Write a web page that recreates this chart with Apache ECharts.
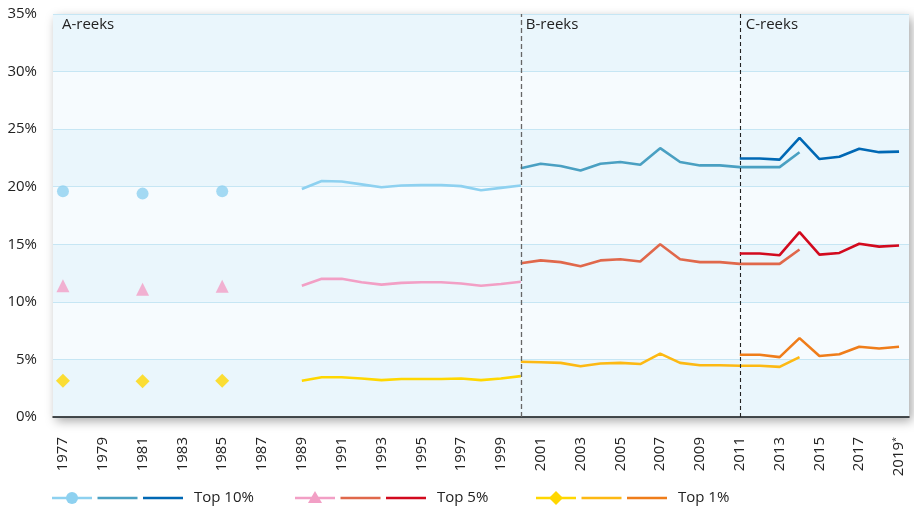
<!DOCTYPE html>
<html><head><meta charset="utf-8">
<script src="https://cdn.jsdelivr.net/npm/echarts@6/dist/echarts.min.js"></script>
<style>html,body{margin:0;padding:0;background:#fff}#c{width:914px;height:510px}</style>
</head><body><div id="c"></div>
<script>
var years = ['1977','1978','1979','1980','1981','1982','1983','1984','1985','1986','1987','1988','1989','1990','1991','1992','1993','1994','1995','1996','1997','1998','1999','2000','2001','2002','2003','2004','2005','2006','2007','2008','2009','2010','2011','2012','2013','2014','2015','2016','2017','2018','2019'];
var yTicks = [0,5,10,15,20,25,30,35];
var dotYears = ['1977','1981','1985'];
var a10Dots = [19.6,19.4,19.6];
var a5Dots = [11.4,11.1,11.35];
var a1Dots = [3.15,3.1,3.15];
var aStart = '1989';
var a10 = [19.8,20.5,20.45,20.2,19.95,20.1,20.15,20.15,20.05,19.7,19.9,20.1];
var a5 = [11.4,12.0,12.0,11.7,11.5,11.65,11.7,11.7,11.6,11.4,11.55,11.75];
var a1 = [3.15,3.45,3.45,3.35,3.2,3.3,3.3,3.3,3.35,3.2,3.35,3.55];
var bStart = '2000';
var b10 = [21.6,22.0,21.8,21.4,22.0,22.15,21.9,23.35,22.15,21.85,21.85,21.7,21.7,21.7,23.0];
var b5 = [13.35,13.6,13.45,13.1,13.6,13.7,13.5,15.0,13.7,13.45,13.45,13.3,13.3,13.3,14.55];
var b1 = [4.8,4.75,4.7,4.4,4.65,4.7,4.6,5.5,4.7,4.5,4.5,4.45,4.45,4.35,5.2];
var cStart = '2011';
var c10 = [22.45,22.45,22.35,24.25,22.4,22.6,23.3,23.0,23.05];
var c5 = [14.2,14.2,14.05,16.05,14.1,14.25,15.05,14.8,14.9];
var c1 = [5.4,5.4,5.2,6.85,5.3,5.45,6.1,5.95,6.1];
var seriesLabels = ['Top 10%','Top 5%','Top 1%'];
var regionLabels = ['A-reeks','B-reeks','C-reeks'];

function fromStart(start, vals){
  var out = years.map(function(){return '-';});
  var i0 = years.indexOf(start);
  vals.forEach(function(v,i){ out[i0+i] = v; });
  return out;
}
function dots(vals){
  var out = years.map(function(){return '-';});
  dotYears.forEach(function(y,i){ out[years.indexOf(y)] = vals[i]; });
  return out;
}
var col = {
  a10:'#8ed1f0', b10:'#4aa0c2', c10:'#0068b4',
  a5:'#f29fc5', b5:'#e0684b', c5:'#d20a1e',
  a1:'#ffd700', b1:'#fdb913', c1:'#ef7d1a'
};
function lineS(name, data, color, z){
  return {name:name, type:'line', data:data, showSymbol:false, symbol:'none', connectNulls:false,
    lineStyle:{color:color, width:2.6}, itemStyle:{color:color}, z:z||3, animation:false};
}
function dotS(name, data, color, symbol, size){
  return {name:name, type:'scatter', data:data, symbol:symbol, symbolSize:size,
    itemStyle:{color:color}, z:4, animation:false};
}
var FONT = 'Open Sans';
var chart = echarts.init(document.getElementById('c'));
var b10s = lineS('b10', fromStart(bStart,b10), col.b10);
b10s.markLine = {silent:true, symbol:'none', animation:false,
  label:{show:false},
  data:[
    {xAxis:bStart, lineStyle:{color:'#666', type:[5,3], width:1.3}},
    {xAxis:cStart, lineStyle:{color:'#222', type:[4,3], width:1.1}}
  ]};
chart.setOption({
  animation:false,
  textStyle:{fontFamily:FONT},
  grid:{left:53, right:5, top:14, bottom:93, show:true, backgroundColor:'#eaf6fc', borderWidth:0,
    shadowColor:'rgba(0,0,0,0.35)', shadowBlur:10, shadowOffsetX:3, shadowOffsetY:4},
  xAxis:{type:'category', data:years, boundaryGap:true,
    axisLine:{lineStyle:{color:'#111', width:1.5}}, axisTick:{show:false},
    axisLabel:{interval:1, rotate:90, margin:20, fontSize:15, color:'#222', fontFamily:FONT,
      formatter:function(v){ return v==='2019' ? '2019{s|*}' : v; },
      rich:{s:{fontSize:9, verticalAlign:'top', color:'#222', fontFamily:FONT, padding:[0,0,6,0]}}},
    splitLine:{show:false}},
  yAxis:{type:'value', min:yTicks[0], max:yTicks[yTicks.length-1], interval:5,
    axisLine:{show:false}, axisTick:{show:false},
    axisLabel:{formatter:'{value}%', fontSize:15, color:'#222', margin:16, fontFamily:FONT},
    splitLine:{lineStyle:{color:'#c6e6f4', width:1}},
    splitArea:{show:true, areaStyle:{color:['#eaf6fc','#f6fbfe']}}},
  series:[
    dotS('a10d', dots(a10Dots), col.a10, 'circle', 12),
    dotS('a5d', dots(a5Dots), col.a5, 'triangle', 13),
    dotS('a1d', dots(a1Dots), col.a1, 'diamond', 14),
    lineS('a10', fromStart(aStart,a10), col.a10),
    lineS('a5', fromStart(aStart,a5), col.a5),
    lineS('a1', fromStart(aStart,a1), col.a1),
    b10s,
    lineS('b5', fromStart(bStart,b5), col.b5),
    lineS('b1', fromStart(bStart,b1), col.b1),
    lineS('c10', fromStart(cStart,c10), col.c10, 5),
    lineS('c5', fromStart(cStart,c5), col.c5, 5),
    lineS('c1', fromStart(cStart,c1), col.c1, 5)
  ]
});

// annotations and legend
var topY = chart.convertToPixel({yAxisIndex:0}, 35);
var xA = chart.convertToPixel({xAxisIndex:0}, '1977');
var xB = chart.convertToPixel({xAxisIndex:0}, bStart);
var xC = chart.convertToPixel({xAxisIndex:0}, cStart);
var g = [];
[[xA-1, regionLabels[0]],[xB+5, regionLabels[1]],[xC+6, regionLabels[2]]].forEach(function(p){
  g.push({type:'text', x:p[0], y:topY+3, z:20, style:{text:p[1], fill:'#222', fontSize:15, fontFamily:FONT}});
});
var legY = 498;
var groups = [
  {x:52, cols:[col.a10,col.b10,col.c10], sym:'circle', text:seriesLabels[0]},
  {x:295, cols:[col.a5,col.b5,col.c5], sym:'triangle', text:seriesLabels[1]},
  {x:536, cols:[col.a1,col.b1,col.c1], sym:'diamond', text:seriesLabels[2]}
];
groups.forEach(function(gr){
  for (var i=0;i<3;i++){
    var x0 = gr.x + i*45.5;
    g.push({type:'line', shape:{x1:x0, y1:legY, x2:x0+40, y2:legY}, style:{stroke:gr.cols[i], lineWidth:2.6}});
  }
  var cx = gr.x+20;
  if (gr.sym==='circle') g.push({type:'circle', shape:{cx:cx, cy:legY, r:6}, style:{fill:gr.cols[0]}});
  if (gr.sym==='triangle') g.push({type:'polygon', shape:{points:[[cx,legY-7],[cx+7,legY+5],[cx-7,legY+5]]}, style:{fill:gr.cols[0]}});
  if (gr.sym==='diamond') g.push({type:'polygon', shape:{points:[[cx,legY-7],[cx+7,legY],[cx,legY+7],[cx-7,legY]]}, style:{fill:gr.cols[0]}});
  g.push({type:'text', x:gr.x+142, y:legY, style:{text:gr.text, fill:'#222', fontSize:15, fontFamily:FONT, verticalAlign:'middle'}});
});
chart.setOption({graphic:g});
</script>
</body></html>
